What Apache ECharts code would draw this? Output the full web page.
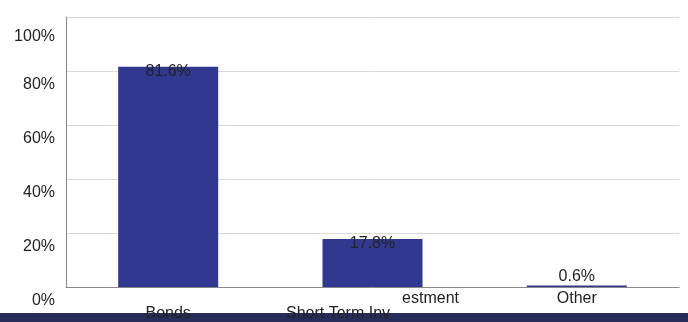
<!DOCTYPE html>
<html>
<head>
<meta charset="utf-8">
<script src="https://cdn.jsdelivr.net/npm/echarts@6/dist/echarts.min.js"></script>
<style>
  html, body { margin: 0; padding: 0; background: #fff; }
  #chart { width: 688px; height: 322px; }
</style>
</head>
<body>
<div id="chart"></div>
<script>
const categories = ['Bonds', 'Short Term Investment', 'Other'];
const values = [81.6, 17.8, 0.6];
const yTicks = [0, 20, 40, 60, 80, 100];

const font = "'Liberation Sans', Arial, sans-serif";
const textColor = '#222';

// the source wraps labels oddly, mimic it
function xLabel(name) {
  if (name === 'Bonds') return ' \n' + name;
  if (name.length > 14) {
    return '{r|' + name.slice(14) + '}\n{l|' + name.slice(0, 14) + '}';
  }
  return name;
}

// y labels sit a bit below their grid lines in the source
function yLabel(v) {
  if (v === 100) return '{g| }\n{b|' + v + '%}';
  return '{s| }\n{b|' + v + '%}';
}

const chart = echarts.init(document.getElementById('chart'));
const option = {
  animation: false,
  textStyle: { fontFamily: font },
  grid: { left: 66, right: 9, top: 17, bottom: 35, outerBoundsMode: 'none' },
  graphic: [{
    type: 'rect', left: 0, bottom: 0, z: -1,
    shape: { width: 688, height: 9 },
    style: { fill: '#272d5b' }
  }],
  xAxis: {
    type: 'category',
    data: categories,
    axisLine: { lineStyle: { color: '#888', width: 1 } },
    axisTick: { show: false },
    axisLabel: {
      interval: 0,
      margin: 4,
      fontSize: 16,
      lineHeight: 15,
      color: textColor,
      fontFamily: font,
      formatter: xLabel,
      rich: {
        r: { width: 173, align: 'right', fontSize: 16, lineHeight: 15, color: textColor, fontFamily: font },
        l: { width: 173, align: 'left', fontSize: 16, lineHeight: 15, color: textColor, fontFamily: font }
      }
    }
  },
  yAxis: {
    type: 'value',
    min: yTicks[0],
    max: yTicks[yTicks.length - 1],
    interval: yTicks[1] - yTicks[0],
    axisLine: { show: true, lineStyle: { color: '#888', width: 1 } },
    axisTick: { show: false },
    splitLine: { lineStyle: { color: '#d9d9d9', width: 1 } },
    axisLabel: {
      margin: 11,
      fontSize: 16,
      color: textColor,
      fontFamily: font,
      formatter: yLabel,
      rich: {
        s: { fontSize: 16, lineHeight: 28 },
        g: { fontSize: 16, lineHeight: 40 },
        b: { fontSize: 16, lineHeight: 24, color: textColor, fontFamily: font }
      }
    }
  },
  series: [{
    type: 'bar',
    barWidth: 100,
    itemStyle: { color: '#30388f' },
    data: values.map(v => ({
      value: v,
      label: v < 5
        ? { position: 'top', distance: 1 }
        : { position: 'insideTop', distance: 0, offset: [0, -3] }
    })),
    label: {
      show: true,
      fontSize: 16,
      color: textColor,
      fontFamily: font,
      formatter: p => p.value.toFixed(1) + '%'
    }
  }]
};
chart.setOption(option);
</script>
</body>
</html>
